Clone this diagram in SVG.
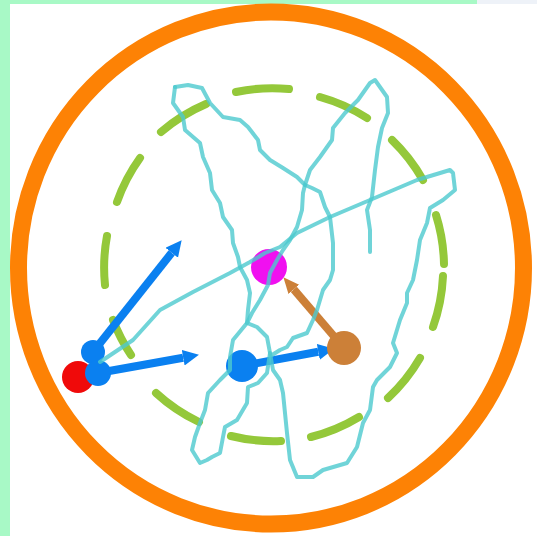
<svg xmlns="http://www.w3.org/2000/svg" width="537" height="536" viewBox="0 0 537 536">
<defs>
<style>
.dash{fill:none;stroke:#94c83a;stroke-width:8;stroke-linecap:round}
.scrib{fill:none;stroke:#4cc9ce;stroke-opacity:0.8;stroke-width:4;stroke-linejoin:round;stroke-linecap:round}
.blue{fill:none;stroke:#0a80f0;stroke-width:8}
.brown{fill:none;stroke:#cc8038;stroke-width:8}
</style>
<marker id="hb" markerUnits="userSpaceOnUse" markerWidth="18" markerHeight="18" refX="0" refY="8" orient="auto"><path d="M0,0 L16,8 L0,16 z" fill="#0a80f0"/></marker>
<marker id="hbr" markerUnits="userSpaceOnUse" markerWidth="18" markerHeight="18" refX="0" refY="8" orient="auto"><path d="M0,1 L16,8 L0,15 z" fill="#cc8038"/></marker>
</defs>
<rect width="537" height="536" fill="#ffffff"/>
<rect x="0" y="0" width="10" height="536" fill="#a8f9c6"/>
<rect x="0" y="0" width="477" height="4" fill="#a8f9c6"/>
<rect x="477" y="0" width="60" height="4" fill="#eef2f8"/>
<ellipse cx="271" cy="268" rx="252.5" ry="256" fill="none" stroke="#fd8205" stroke-width="17"/>
<g id="dashed-ring">
<path class="dash" d="M161,132 Q181.4,114.5 206,104"/>
<path class="dash" d="M236,92 Q262.3,86.4 289,89"/>
<path class="dash" d="M320,97 Q345.1,104 367,118"/>
<path class="dash" d="M392,140 Q410.4,157.7 423,180"/>
<path class="dash" d="M436,215 Q443.5,238.9 444,264"/>
<path class="dash" d="M443,276 Q441.8,302.3 433,327"/>
<path class="dash" d="M420,358 Q406.9,380.5 388,398"/>
<path class="dash" d="M359,417 Q336.4,430.7 311,437"/>
<path class="dash" d="M281,441 Q255.6,442.1 231,436"/>
<path class="dash" d="M199,422 Q175.3,410.7 156,393"/>
<path class="dash" d="M131,355 Q120,338.5 113,320"/>
<path class="dash" d="M105,285 Q102.5,260.4 107,236"/>
<path class="dash" d="M117,202 Q125.4,178.2 140,158"/>
</g>
<g id="connectors">
<path class="blue" d="M93,352 L171.7,252.8" marker-end="url(#hb)"/>
<path class="blue" d="M98,373 L183.2,357.7" marker-end="url(#hb)"/>
<path class="blue" d="M242,366 L318.3,351.8" marker-end="url(#hb)"/>
<path class="brown" d="M344,348 L293.8,289.4" marker-end="url(#hbr)"/>
</g>
<g id="node-red"><circle cx="78" cy="377" r="16" fill="#f00a0a"/></g>
<g id="node-blue-a"><circle cx="93" cy="352" r="12" fill="#0a80f0"/></g>
<g id="node-blue-b"><circle cx="98" cy="373" r="13" fill="#0a80f0"/></g>
<g id="node-blue-c"><circle cx="242" cy="366" r="16" fill="#0a80f0"/></g>
<g id="node-magenta"><circle cx="269" cy="267" r="18" fill="#f010f0"/></g>
<g id="node-brown"><circle cx="344" cy="348" r="17" fill="#cc8038"/></g>
<g id="scribble">
<path class="scrib" d="M175,87 L173,103 L183,117 L185,130 L200,143 L203,157 L210,173 L212,190 L220,203 L223,217 L232,230 L233,243 L238,257 L240,267 L247,280 L250,293 L248,310 L247,323 L233,340 L230,357 L230,370 L220,380 L208,393 L205,410 L200,423 L195,437 L192,450 L200,463 L207,460 L212,457 L220,453 L223,437 L225,427 L237,420 L247,403 L248,387 L258,383 L267,373 L270,353 L267,337 L257,327 L247,323"/>
<path class="scrib" d="M175,87 L188,85 L202,88 L210,103 L223,117 L240,120 L248,127 L258,140 L260,150 L270,160 L283,168 L297,177 L305,185 L303,193 L302,210 L297,227 L290,240 L283,250 L277,260 L270,273 L268,285 L260,300 L252,313 L247,323"/>
<path class="scrib" d="M305,185 L310,170 L320,157 L332,140 L333,128 L345,113 L358,100 L370,83 L375,80 L387,97 L388,113 L382,128 L378,147 L375,170 L372,197 L367,210 L370,230 L370,252"/>
<path class="scrib" d="M305,185 L312,188 L320,192 L325,207 L330,217 L333,243 L333,270 L330,280 L323,290 L317,310 L313,320 L307,333 L293,338 L287,347 L280,350 L272,355"/>
<path class="scrib" d="M100,362 L133,340 L160,310 L193,292 L230,273 L250,262 L265,253 L280,247 L297,233 L330,217 L370,200 L417,180 L450,170 L453,173 L455,190 L443,200 L430,208 L427,223 L420,240 L417,260 L413,280 L407,293 L407,303 L400,320 L393,343 L397,353 L390,367 L377,380 L373,387 L370,410 L363,423 L357,447 L347,463 L323,470 L313,477 L297,477 L290,460 L287,433 L283,393 L280,380 L273,370 L270,353"/>
</g>
</svg>
